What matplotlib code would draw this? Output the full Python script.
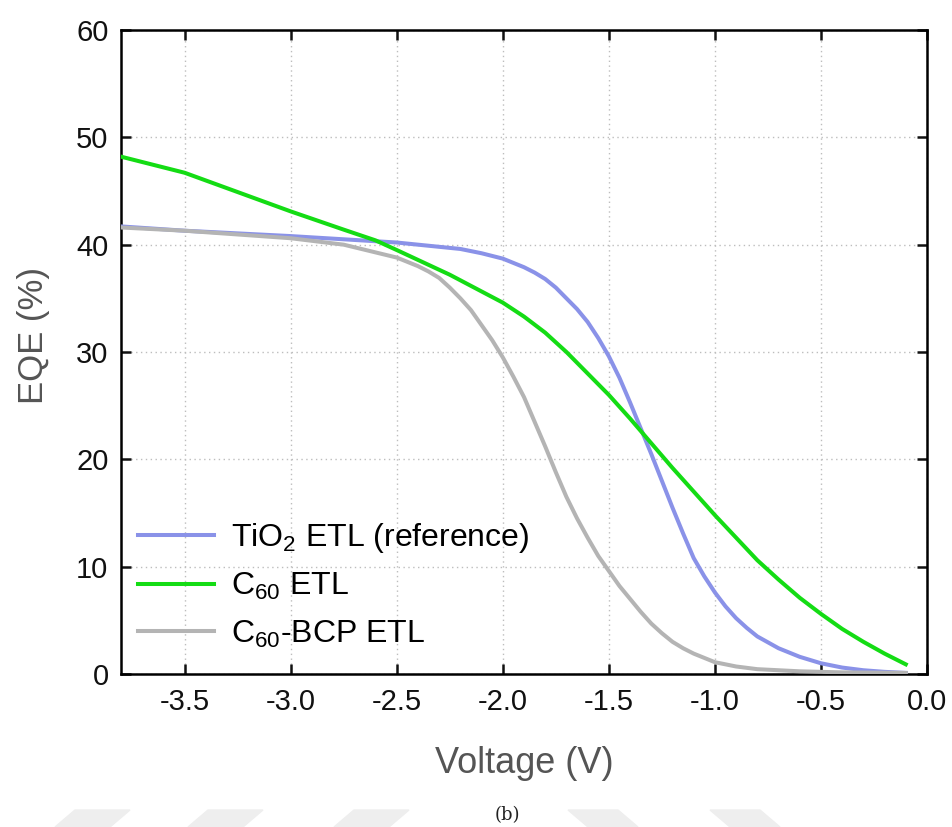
import matplotlib
matplotlib.use("Agg")
import matplotlib.pyplot as plt
from matplotlib.patches import Polygon

# -----------------------------
# Data
# -----------------------------
tio2_v = [-3.8, -3.5, -3.0, -2.75, -2.5, -2.3, -2.2, -2.1, -2.0, -1.95, -1.9,
          -1.85, -1.8, -1.75, -1.7, -1.65, -1.6, -1.55, -1.5, -1.45, -1.4,
          -1.35, -1.3, -1.25, -1.2, -1.15, -1.1, -1.05, -1.0, -0.95, -0.9,
          -0.85, -0.8, -0.7, -0.6, -0.5, -0.4, -0.3, -0.2, -0.1]
tio2_eqe = [41.7, 41.3, 40.8, 40.5, 40.2, 39.8, 39.6, 39.2, 38.7, 38.3, 37.9,
            37.4, 36.8, 36.0, 35.0, 34.0, 32.8, 31.3, 29.6, 27.6, 25.3,
            22.9, 20.5, 18.0, 15.5, 13.1, 10.8, 9.1, 7.6, 6.3, 5.2,
            4.3, 3.5, 2.4, 1.6, 1.0, 0.6, 0.35, 0.2, 0.1]

c60_v = [-3.8, -3.5, -3.25, -3.0, -2.75, -2.6, -2.5, -2.25, -2.0, -1.9, -1.8,
         -1.7, -1.6, -1.5, -1.4, -1.3, -1.2, -1.1, -1.0, -0.9, -0.8, -0.7,
         -0.6, -0.5, -0.4, -0.3, -0.2, -0.1]
c60_eqe = [48.2, 46.7, 44.9, 43.1, 41.4, 40.4, 39.5, 37.2, 34.6, 33.3, 31.8,
           30.0, 28.0, 26.0, 23.8, 21.5, 19.2, 17.0, 14.8, 12.7, 10.6, 8.8,
           7.1, 5.6, 4.2, 3.0, 1.9, 0.9]

bcp_v = [-3.8, -3.5, -3.0, -2.75, -2.5, -2.45, -2.4, -2.35, -2.3, -2.25, -2.2,
         -2.15, -2.1, -2.05, -2.0, -1.95, -1.9, -1.85, -1.8, -1.75, -1.7,
         -1.65, -1.6, -1.55, -1.5, -1.45, -1.4, -1.35, -1.3, -1.25, -1.2,
         -1.15, -1.1, -1.05, -1.0, -0.9, -0.8, -0.6, -0.4, -0.1]
bcp_eqe = [41.6, 41.3, 40.6, 40.0, 38.8, 38.4, 38.0, 37.5, 36.9, 36.0, 35.0,
           33.9, 32.5, 31.1, 29.5, 27.7, 25.8, 23.5, 21.2, 18.8, 16.5,
           14.5, 12.7, 11.0, 9.6, 8.2, 7.0, 5.8, 4.7, 3.8, 3.0,
           2.4, 1.9, 1.5, 1.1, 0.7, 0.45, 0.25, 0.15, 0.1]

x_ticks = [-3.5, -3.0, -2.5, -2.0, -1.5, -1.0, -0.5, 0.0]
y_ticks = [0, 10, 20, 30, 40, 50, 60]

plt.rcParams['font.family'] = ['Liberation Sans', 'DejaVu Sans']
plt.rcParams['mathtext.fontset'] = 'custom'
plt.rcParams['mathtext.rm'] = 'Liberation Sans'

fig = plt.figure(figsize=(9.52, 8.27), dpi=100)
ax = fig.add_axes([121 / 952, 1 - 674 / 827, 806 / 952, 644 / 827])

ax.plot(tio2_v, tio2_eqe, color="#8a92e8", lw=2.9, label=r"TiO$_2$ ETL (reference)", zorder=3)
ax.plot(c60_v, c60_eqe, color="#14dc14", lw=2.9, label=r"C$_{60}$ ETL", zorder=4)
ax.plot(bcp_v, bcp_eqe, color="#b4b4b4", lw=2.9, label=r"C$_{60}$-BCP ETL", zorder=3)

ax.set_xlim(-3.8, 0.0)
ax.set_ylim(0, 60)
ax.set_xticks(x_ticks)
ax.set_yticks(y_ticks)
ax.set_xticklabels([f"{v:.1f}" for v in x_ticks])

ax.grid(True, linestyle=(0, (1, 2.5)), color="#bdbdbd", lw=1.0)
ax.tick_params(direction="in", length=7, width=1.8, top=True, right=True,
               labelsize=21, colors="#111111")
ax.tick_params(axis="x", pad=10)
ax.tick_params(axis="y", pad=9)
for s in ax.spines.values():
    s.set_linewidth(1.8)

ax.set_xlabel("Voltage (V)", fontsize=26, color="#555555", labelpad=22)
ax.set_ylabel("EQE (%)", fontsize=25, color="#555555")
ax.yaxis.set_label_coords(-0.088, 0.525)

leg = ax.legend(loc="lower left", bbox_to_anchor=(0.005, 0.018), frameon=False,
                fontsize=23, handlelength=2.4, handletextpad=0.53,
                labelspacing=0.5, borderaxespad=0.2, borderpad=0.2)

fig.text(0.533, 0.004, "(b)", family="DejaVu Serif", fontsize=13, ha="center",
         va="bottom", color="#222222")

# faint watermark strips along the bottom edge
top = 1 - 810 / 827
for x0 in [75, 208, 354]:
    fig.patches.append(Polygon([(x0 / 952, top), ((x0 + 55) / 952, top),
                                ((x0 + 35) / 952, 0), ((x0 - 20) / 952, 0)],
                               closed=True, transform=fig.transFigure,
                               color="#eeeeee", zorder=-1))
for x0 in [568, 710]:
    fig.patches.append(Polygon([(x0 / 952, top), ((x0 + 50) / 952, top),
                                ((x0 + 70) / 952, 0), ((x0 + 20) / 952, 0)],
                               closed=True, transform=fig.transFigure,
                               color="#eeeeee", zorder=-1))

fig.savefig("out.png", dpi=100)
